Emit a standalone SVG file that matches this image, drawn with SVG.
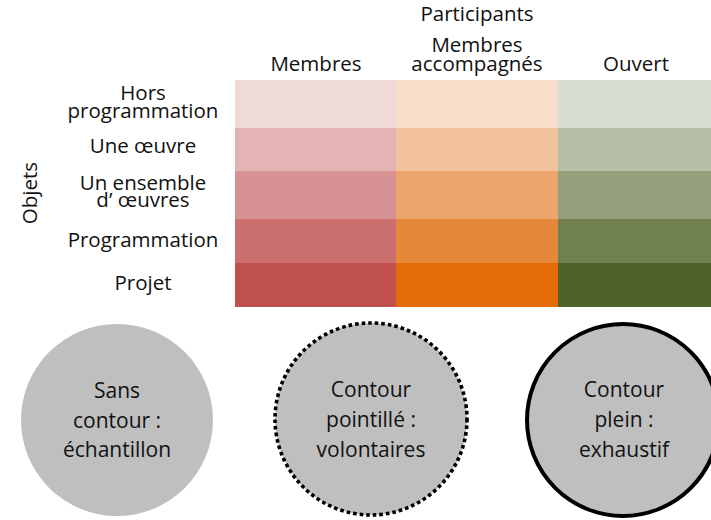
<svg xmlns="http://www.w3.org/2000/svg" width="711" height="520" viewBox="0 0 711 520">
<style>
text{font-family:"Open Sans","Liberation Sans",sans-serif;font-size:20.5px;fill:#111;text-anchor:middle}
.c{font-size:21px}
.bub{fill:#BFBFBF}
</style>
<rect width="711" height="520" fill="#fff"/>
<g id="headers">
<text x="477" y="21">Participants</text>
<text x="316" y="71">Membres</text>
<text x="477" y="52">Membres</text>
<text x="477" y="71">accompagnés</text>
<text x="636" y="71">Ouvert</text>
</g>
<g id="row-labels">
<text transform="translate(37,193) rotate(-90)">Objets</text>
<text x="143" y="100">Hors</text>
<text x="143" y="118">programmation</text>
<text x="143" y="153">Une œuvre</text>
<text x="143" y="190">Un ensemble</text>
<text x="143" y="207">d’ œuvres</text>
<text x="143" y="247">Programmation</text>
<text x="143" y="290">Projet</text>
</g>
<g id="grid">
<rect x="235" y="80" width="161" height="48" fill="#EFD9D9"/>
<rect x="396" y="80" width="162" height="48" fill="#F8DECB"/>
<rect x="558" y="80" width="153" height="48" fill="#D8DED3"/>
<rect x="235" y="128" width="161" height="43" fill="#E4B4B4"/>
<rect x="396" y="128" width="162" height="43" fill="#F2C29A"/>
<rect x="558" y="128" width="153" height="43" fill="#B7BFA7"/>
<rect x="235" y="171" width="161" height="48" fill="#D79393"/>
<rect x="396" y="171" width="162" height="48" fill="#EDA56D"/>
<rect x="558" y="171" width="153" height="48" fill="#93A07B"/>
<rect x="235" y="219" width="161" height="44" fill="#CB6F6E"/>
<rect x="396" y="219" width="162" height="44" fill="#E5883A"/>
<rect x="558" y="219" width="153" height="44" fill="#71804F"/>
<rect x="235" y="263" width="161" height="44" fill="#C0504D"/>
<rect x="396" y="263" width="162" height="44" fill="#E36C09"/>
<rect x="558" y="263" width="153" height="44" fill="#4F6228"/>
</g>
<g id="sample">
<circle class="bub" cx="117" cy="420" r="96"/>
<text class="c" x="117" y="398">Sans</text>
<text class="c" x="117" y="428">contour :</text>
<text class="c" x="117" y="457">échantillon</text>
</g>
<g id="volunteers">
<circle class="bub" cx="371" cy="419" r="96" stroke="#000" stroke-width="3.6" stroke-dasharray="3.6 3"/>
<text class="c" x="371" y="397">Contour</text>
<text class="c" x="371" y="427">pointillé :</text>
<text class="c" x="371" y="457">volontaires</text>
</g>
<g id="exhaustive">
<circle class="bub" cx="623" cy="420" r="96" stroke="#000" stroke-width="4"/>
<text class="c" x="624" y="397">Contour</text>
<text class="c" x="624" y="427">plein :</text>
<text class="c" x="624" y="457">exhaustif</text>
</g>
<g id="connectors"/>
</svg>
